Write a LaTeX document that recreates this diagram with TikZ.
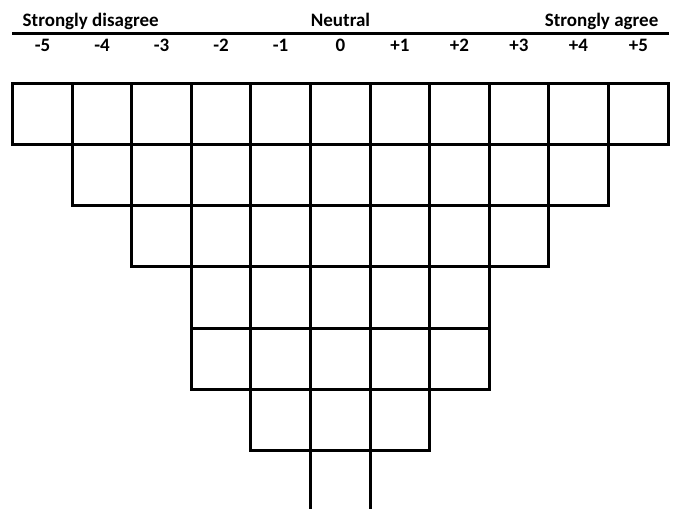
\documentclass[tikz,border=0pt]{standalone}
\usepackage{fontspec}
\setmainfont{Carlito}
\begin{document}
\begin{tikzpicture}[x=1pt,y=-1pt,
  cell/.style={draw, line width=2.6pt, inner sep=0pt, outer sep=0pt, anchor=north west},
  stem/.style={line width=2.6pt},
  rule/.style={line width=3.2pt},
  lab/.style={font=\bfseries\fontsize{19}{21}\selectfont, inner sep=0pt}]
\useasboundingbox (0,0) rectangle (674,509);
\def\xs{{12.5,72.5,131.5,191.5,250.5,310.5,370.5,429.5,489.5,548.5,608.5,668.5}}
\def\ys{{83.5,144.5,205.5,266.5,328.5,389.5,450.5}}
% titles
\node[lab, anchor=base west] (tdis) at (22.5,26.8) {Strongly disagree};
\node[lab, anchor=base] (tneu) at (340.5,26.8) {Neutral};
\node[lab, anchor=base east] (tagr) at (658.5,26.8) {Strongly agree};
% header rule
\coordinate (rl) at (12,33.5);
\coordinate (rr) at (669,33.5);
\draw[rule] (rl) -- (rr);
% scale numbers
\foreach \t [count=\i from 0] in {-5,-4,-3,-2,-1,0,+1,+2,+3,+4,+5}{
  \pgfmathsetmacro\xa{\xs[\i]}
  \pgfmathsetmacro\xb{\xs[\i+1]}
  \node[lab, anchor=base] (n\i) at ({(\xa+\xb)/2},51.8) {\t};
}
% cells
\foreach \r/\a/\b in {0/0/10,1/1/9,2/2/8,3/3/7,4/3/7,5/4/6}
  \foreach \c in {\a,...,\b}{
    \pgfmathsetmacro\xa{\xs[\c]}
    \pgfmathsetmacro\xb{\xs[\c+1]}
    \pgfmathsetmacro\ya{\ys[\r]}
    \pgfmathsetmacro\yb{\ys[\r+1]}
    \node[cell, minimum width={(\xb-\xa)*1pt}, minimum height={(\yb-\ya)*1pt}] (c\r-\c) at (\xa,\ya) {};
  }
% open stem
\coordinate (sl) at (310.5,509);
\coordinate (sr) at (370.5,509);
\draw[stem] (c5-5.south west) -- (sl);
\draw[stem] (c5-5.south east) -- (sr);
\end{tikzpicture}
\end{document}
